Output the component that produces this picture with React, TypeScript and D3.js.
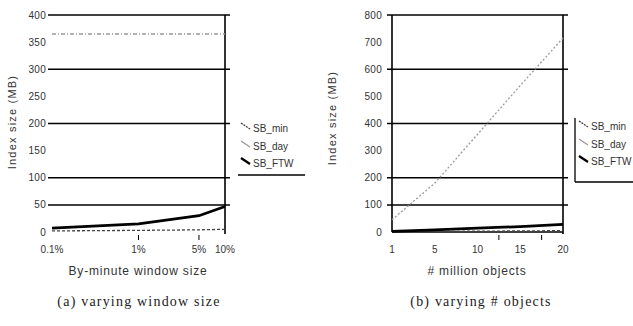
import React from "react";
import * as d3 from "d3";

// ---- data ----
const windowSizes = [0.1, 1, 5, 10];
const windowLabels = ["0.1%", "1%", "5%", "10%"];
const aMin = [2, 3, 4, 5];
const aDay = [365, 365, 365, 365];
const aFTW = [7, 15, 30, 47];

const objects = ["1", "5", "10", "15", "20"];
const bMin = [1, 2, 3, 4, 5];
const bDay = [45, 180, 360, 540, 715];
const bFTW = [2, 8, 14, 20, 28];

const aTicks = [0, 50, 100, 150, 200, 250, 300, 350, 400];
const aGrid = [50, 100, 200, 300, 400];
const bTicks = [0, 100, 200, 300, 400, 500, 600, 700, 800];
const bGrid = [100, 200, 400, 600, 800];
const seriesNames = ["SB_min", "SB_day", "SB_FTW"];

const TXT = "#333";
const FONT = "Liberation Sans, Arial, sans-serif";
const SERIF = "Liberation Serif, Times New Roman, serif";

const styles = [
  { stroke: "#444", width: 1.3, dash: "3,2" },
  { stroke: "#999", width: 1.3, dash: "4,2,1,2" },
  { stroke: "#000", width: 2.8, dash: "" },
];

function Legend({ x, rows }: { x: number; rows: number[] }) {
  return (
    <g>
      {seriesNames.map((n, i) => (
        <g key={n}>
          <line
            x1={x}
            y1={rows[i] - 5}
            x2={x + 9}
            y2={rows[i] + 1}
            stroke={styles[i].stroke}
            strokeWidth={i === 2 ? 2.2 : 1.3}
            strokeDasharray={i === 0 ? "2,1" : ""}
          />
          <text x={x + 12} y={rows[i] + 3.5} fontSize={10} fill={TXT} fontFamily={FONT}>
            {n}
          </text>
        </g>
      ))}
    </g>
  );
}

export default function App() {
  // chart A
  const xA = d3.scaleLog().domain([0.1, 10]).range([52, 225]);
  const yA = d3.scaleLinear().domain([0, 400]).range([232, 15]);
  const lineA = (vals: number[]) =>
    d3.line<number>().x((_, i) => xA(windowSizes[i])).y((v) => yA(v))(vals) || "";

  // chart B
  const xB = d3.scalePoint<string>().domain(objects).range([392, 563]);
  const xBi = d3.scaleLinear().domain([0, objects.length - 1]).range([392, 563]);
  const yB = d3.scaleLinear().domain([0, 800]).range([232, 15]);
  const lineB = (vals: number[]) =>
    d3.line<number>().x((_, i) => xB(objects[i]) as number).y((v) => yB(v))(vals) || "";

  const aSeries = [aMin, aDay, aFTW];
  const bSeries = [bMin, bDay, bFTW];

  return (
    <div style={{ position: "absolute", left: 0, top: 0 }}>
      <svg width={633} height={326} style={{ display: "block", background: "#fff" }}>
        {/* ===== chart A ===== */}
        {aGrid.map((t) => (
          <line key={"ga" + t} x1={48} x2={230} y1={yA(t)} y2={yA(t)} stroke="#000" strokeWidth={1.5} />
        ))}
        {aTicks.map((t) => (
          <text key={"ta" + t} x={46} y={yA(t) + 3.5} fontSize={10} textAnchor="end" fill={TXT} fontFamily={FONT} letterSpacing={0.3}>
            {t}
          </text>
        ))}
        <line x1={225} x2={225} y1={yA(400)} y2={yA(0) + 2} stroke="#000" strokeWidth={1.6} />
        {[1, 5].map((v) => (
          <line key={"xta" + v} x1={xA(v)} x2={xA(v)} y1={235} y2={240} stroke="#000" strokeWidth={1} />
        ))}
        {windowSizes.map((v, i) => (
          <text key={"xla" + v} x={xA(v)} y={253} fontSize={10} textAnchor="middle" fill={TXT} fontFamily={FONT}>
            {windowLabels[i]}
          </text>
        ))}
        <text x={138} y={275} fontSize={12} textAnchor="middle" fill={TXT} fontFamily={FONT} letterSpacing={0.8}>
          By-minute window size
        </text>
        <text
          transform={`translate(16,${122}) rotate(-90)`}
          fontSize={11}
          textAnchor="middle"
          fill={TXT}
          fontFamily={FONT}
          letterSpacing={1.2}
        >
          Index size (MB)
        </text>
        {aSeries.map((s, i) => (
          <path
            key={"pa" + i}
            d={lineA(s)}
            fill="none"
            stroke={styles[i].stroke}
            strokeWidth={styles[i].width}
            strokeDasharray={styles[i].dash}
          />
        ))}
        <Legend x={241} rows={[128, 146, 163]} />
        <line x1={238} x2={305} y1={175} y2={175} stroke="#000" strokeWidth={1.4} />
        <text x={139} y={306} fontSize={14} textAnchor="middle" fill="#222" fontFamily={SERIF} letterSpacing={1.2}>
          (a) varying window size
        </text>

        {/* ===== chart B ===== */}
        {bGrid.map((t) => (
          <line key={"gb" + t} x1={387} x2={568} y1={yB(t)} y2={yB(t)} stroke="#000" strokeWidth={1.5} />
        ))}
        {bTicks.map((t) => (
          <text key={"tb" + t} x={382} y={yB(t) + 3.5} fontSize={10} textAnchor="end" fill={TXT} fontFamily={FONT} letterSpacing={0.3}>
            {t}
          </text>
        ))}
        <line x1={392} x2={392} y1={yB(800)} y2={yB(0)} stroke="#000" strokeWidth={1.6} />
        <line x1={563} x2={563} y1={yB(800)} y2={yB(0) + 2} stroke="#000" strokeWidth={1.6} />
        <line x1={392} x2={563} y1={yB(0)} y2={yB(0)} stroke="#000" strokeWidth={1.6} />
        {[2.5, 3.5].map((v) => (
          <line key={"xtb" + v} x1={xBi(v)} x2={xBi(v)} y1={235} y2={240} stroke="#000" strokeWidth={1} />
        ))}
        {objects.map((c) => (
          <text key={"xlb" + c} x={xB(c)} y={253} fontSize={10} textAnchor="middle" fill={TXT} fontFamily={FONT}>
            {c}
          </text>
        ))}
        <text x={477} y={275} fontSize={12} textAnchor="middle" fill={TXT} fontFamily={FONT} letterSpacing={0.8}>
          # million objects
        </text>
        <text
          transform={`translate(336,${118}) rotate(-90)`}
          fontSize={11}
          textAnchor="middle"
          fill={TXT}
          fontFamily={FONT}
          letterSpacing={1.2}
        >
          Index size (MB)
        </text>
        {bSeries.map((s, i) => (
          <path
            key={"pb" + i}
            d={lineB(s)}
            fill="none"
            stroke={styles[i].stroke}
            strokeWidth={styles[i].width}
            strokeDasharray={i === 1 ? "2,2" : styles[i].dash}
          />
        ))}
        <line x1={575} x2={575} y1={118} y2={182} stroke="#000" strokeWidth={1.3} />
        <line x1={575} x2={633} y1={182} y2={182} stroke="#000" strokeWidth={1.3} />
        <Legend x={579} rows={[126, 144, 161]} />
        <text x={481} y={306} fontSize={14} textAnchor="middle" fill="#222" fontFamily={SERIF} letterSpacing={1.2}>
          (b) varying # objects
        </text>
      </svg>
    </div>
  );
}
